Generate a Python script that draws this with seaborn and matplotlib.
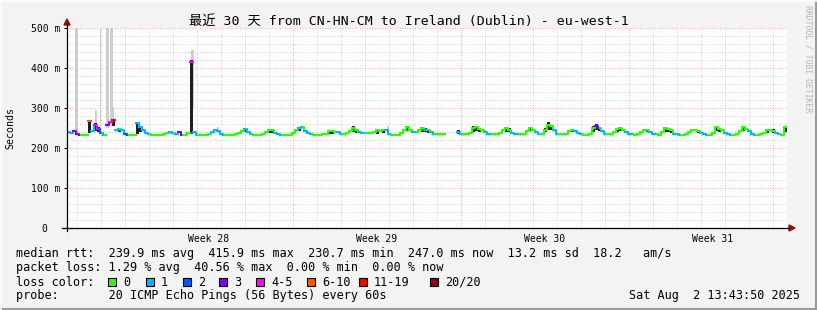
import numpy as np
import pandas as pd
import matplotlib
matplotlib.use("Agg")
import matplotlib.pyplot as plt
import seaborn as sns
from matplotlib.lines import Line2D
from matplotlib.patches import Polygon, Rectangle

nan = np.nan
W, H = 817, 310
STEP = 3  # hours per sample

# ---------------- data (median rtt in ms, one value per 3 h) ----------------
rtt_days_01_06 = [240, 238, 242, 236, 232, 232, 232, 268,
                  242, 258, 248, 238, 232, 258, 265, 270,
                  245, 248, 245, 236, 232, 232, 233, 262,
                  252, 245, 238, 234, 232, 232, 232, 233,
                  235, 238, 240, 237, 234, 240, 232, 233,
                  238, 415, 240, 232, 232, 232, 233, 236]
rtt_days_07_12 = [240, 245, 242, 236, 232, 232, 232, 233,
                  235, 238, 242, 248, 240, 234, 232, 232,
                  232, 234, 240, 245, 244, 238, 236, 232,
                  232, 232, 233, 238, 245, 250, 252, 242,
                  238, 234, 232, 232, 233, 234, 236, 242,
                  243, 240, 240, 236, 236, 237, 242, 250]
rtt_days_13_18 = [246, 240, 238, 237, 237, 237, 240, 244,
                  243, 245, 244, 236, 232, 232, 233, 238,
                  246, 252, 245, 240, 240, 245, 250, 244,
                  244, 240, 236, 234, 234, 234, nan, nan,
                  nan, nan, 240, 236, 234, 234, 238, 250,
                  252, 248, 246, 240, 236, 234, 234, 234]
rtt_days_19_24 = [238, 245, 250, 246, 238, 235, 234, 234,
                  236, 242, 250, 246, 240, 234, 234, 245,
                  258, 255, 245, 236, 234, 234, 236, 242,
                  246, 242, 238, 234, 233, 233, 236, 250,
                  256, 250, 242, 236, 234, 234, 240, 248,
                  250, 246, 240, 236, 234, 233, 234, 240]
rtt_days_25_30 = [244, 246, 240, 236, 234, 233, 240, 250,
                  248, 244, 236, 234, 233, 233, 234, 240,
                  245, 244, 242, 238, 235, 233, 233, 238,
                  252, 248, 244, 238, 234, 233, 233, 236,
                  242, 252, 248, 242, 236, 233, 233, 234,
                  238, 244, 246, 242, 238, 234, 233, 252]

# loss class per sample (0: 0, 1: 1, 2: 2, 3: 3, 4: 4-5, 5: 6-10, 6: 11-19, 7: 20/20)
loss_days_01_06 = [1, 1, 3, 3, 0, 0, 0, 5,
                   1, 4, 2, 1, 0, 3, 4, 6,
                   1, 0, 1, 2, 0, 0, 0, 1,
                   1, 1, 1, 0, 0, 0, 0, 0,
                   0, 0, 1, 0, 1, 3, 0, 0,
                   0, 4, 1, 0, 0, 0, 0, 0]
loss_days_07_12 = [1, 1, 1, 1, 0, 0, 0, 0,
                   0, 0, 0, 1, 1, 0, 0, 0,
                   0, 0, 0, 0, 0, 1, 1, 0,
                   0, 0, 0, 0, 0, 1, 0, 1,
                   1, 0, 0, 0, 0, 0, 0, 0,
                   0, 0, 1, 0, 0, 0, 0, 0]
loss_days_13_18 = [0, 1, 1, 0, 0, 0, 0, 0,
                   0, 0, 1, 0, 0, 0, 0, 0,
                   0, 0, 0, 1, 0, 0, 0, 1,
                   0, 1, 0, 0, 0, 0, 0, 0,
                   0, 0, 1, 0, 0, 0, 0, 0,
                   0, 0, 0, 1, 1, 0, 0, 0]
loss_days_19_24 = [0, 0, 0, 0, 1, 1, 0, 0,
                   0, 0, 0, 0, 1, 0, 0, 0,
                   0, 0, 1, 0, 0, 0, 0, 0,
                   0, 1, 1, 0, 0, 0, 0, 0,
                   3, 0, 1, 0, 0, 0, 0, 0,
                   0, 0, 1, 1, 0, 0, 0, 0]
loss_days_25_30 = [0, 0, 1, 1, 0, 0, 0, 0,
                   0, 0, 1, 1, 0, 0, 0, 0,
                   0, 0, 0, 1, 1, 0, 0, 0,
                   0, 0, 0, 1, 1, 0, 0, 0,
                   0, 0, 0, 1, 1, 0, 0, 0,
                   0, 0, 0, 0, 1, 0, 0, 0]

# dense smoke (sample index, low ms, high ms)
dark_idx = [7, 9, 10, 15, 17, 23, 24, 41, 59, 67, 68, 77, 87, 88, 95, 96, 103,
            105, 113, 118, 119, 120, 130, 135, 136, 137, 146, 147, 154, 159,
            160, 161, 168, 175, 176, 177, 183, 184, 193, 199, 200, 201, 210,
            216, 217, 225, 233, 235, 239]
dark_lo = [238, 242, 240, 255, 240, 235, 240, 236, 240, 238, 238, 242, 236, 236,
           240, 238, 236, 238, 242, 240, 240, 238, 236, 240, 242, 240, 240, 240,
           242, 240, 245, 244, 240, 240, 245, 242, 240, 242, 240, 240, 240, 238,
           238, 242, 240, 242, 238, 238, 240]
dark_hi = [270, 262, 252, 272, 250, 265, 255, 420, 250, 248, 248, 252, 245, 246,
           254, 248, 246, 248, 254, 252, 250, 246, 244, 254, 256, 250, 252, 250,
           252, 250, 264, 258, 248, 254, 260, 252, 250, 252, 248, 252, 250, 246,
           246, 254, 250, 256, 246, 248, 256]

# light smoke (start hour, end hour, low ms, high ms)
light_start = [8, 32.5, 39, 43, 28, 45.5, 123.5, 150, 319.5]
light_end = [11, 34, 42, 46, 30, 47, 126.5, 152, 321.5]
light_lo = [236, 238, 250, 255, 250, 260, 300, 238, 240]
light_hi = [500, 500, 500, 500, 296, 302, 445, 253, 254]

week_labels = ["Week 28", "Week 29", "Week 30", "Week 31"]
loss_names = ["0", "1", "2", "3", "4-5", "6-10", "11-19", "20/20"]
loss_colors = ["#26ff00", "#00b8ff", "#0059ff", "#7e00ff",
               "#ff00ff", "#ff5500", "#ff0000", "#a10000"]

rtt = np.array(rtt_days_01_06 + rtt_days_07_12 + rtt_days_13_18
               + rtt_days_19_24 + rtt_days_25_30, dtype=float)
loss = np.array(loss_days_01_06 + loss_days_07_12 + loss_days_13_18
                + loss_days_19_24 + loss_days_25_30)

# ---------------- figure ----------------
MONO = ["DejaVu Sans Mono", "Noto Sans CJK SC"]
plt.rcParams["font.family"] = MONO
BG = "#f3f3f3"
fig = plt.figure(figsize=(W / 100, H / 100), dpi=100, facecolor=BG)


def fx(x):
    return x / W


def fy(y):
    return 1 - y / H


ax = fig.add_axes([fx(67), fy(228), 720 / W, 200 / H])
ax.set_facecolor("white")
ax.set_xlim(0, 720)
ax.set_ylim(0, 500)
for s in ax.spines.values():
    s.set_visible(False)

# grid
grid_kw = dict(lw=0.6, linestyles=(0, (1, 2)), zorder=0)
ax.hlines([v for v in range(20, 501, 20) if v % 100], 0, 720, color="#bcbcbc", **grid_kw)
ax.hlines([100, 200, 300, 400, 500], 0, 720, color="#f08a8a", **grid_kw)
day_lines = [9.7 + 24 * k for k in range(30)]
week_lines = [57.7 + 168 * k for k in range(4)]
ax.vlines([d for d in day_lines if min(abs(d - w) for w in week_lines) > 1],
          0, 500, color="#bcbcbc", **grid_kw)
ax.vlines(week_lines, 0, 500, color="#f08a8a", **grid_kw)

# light smoke
for s0, s1, lo, hi in zip(light_start, light_end, light_lo, light_hi):
    ax.bar(s0, hi - lo, bottom=lo, width=s1 - s0, align="edge",
           color="#cdcdcd", lw=0, zorder=1)
# dense smoke
t_all = np.arange(len(rtt)) * STEP
ax.bar(t_all[dark_idx] + STEP / 2, np.array(dark_hi) - np.array(dark_lo), bottom=dark_lo,
       width=STEP * 0.7, align="center", color="#1e1e1e", lw=0, zorder=2)

# median line colored by loss class (steps; big jumps left to the smoke)
rows = []
for i, (m, l) in enumerate(zip(rtt, loss)):
    if np.isnan(m):
        continue
    name = loss_names[l]
    rows.append((t_all[i], m, i, name))
    rows.append((t_all[i] + STEP, m, i, name))
    if i + 1 < len(rtt) and not np.isnan(rtt[i + 1]) and abs(rtt[i + 1] - m) < 20:
        rows.append((t_all[i] + STEP, rtt[i + 1], i, name))
df = pd.DataFrame(rows, columns=["t", "ms", "seg", "loss"])
sns.lineplot(data=df, x="t", y="ms", hue="loss", units="seg", estimator=None,
             sort=False, palette=dict(zip(loss_names, loss_colors)),
             hue_order=loss_names, legend=False, lw=1.5, ax=ax, zorder=3)

# ticks
ax.set_yticks([0, 100, 200, 300, 400, 500])
ax.set_yticklabels(["0  ", "100 m", "200 m", "300 m", "400 m", "500 m"])
ax.set_xticks([w + 84 for w in week_lines])
ax.set_xticklabels(week_labels)
ax.tick_params(axis="y", length=2.5, width=0.8, pad=2.5, labelsize=7, color="black")
ax.tick_params(axis="x", length=0, pad=4.5, labelsize=7)
ax.set_xlabel("")
ax.set_ylabel("")
fig.text(fx(10), fy(128), "Seconds", rotation=90, ha="center", va="center", fontsize=7.2)

# axes lines and arrows
fig.add_artist(Line2D([fx(67), fx(67)], [fy(231), fy(24)], color="black", lw=0.9))
fig.add_artist(Line2D([fx(62), fx(789)], [fy(228), fy(228)], color="black", lw=0.9))
fig.add_artist(Polygon([(fx(64), fy(25)), (fx(70), fy(25)), (fx(67), fy(19))],
                       closed=True, color="#8b1010", transform=fig.transFigure))
fig.add_artist(Polygon([(fx(789), fy(225)), (fx(789), fy(231)), (fx(795), fy(228))],
                       closed=True, color="#8b1010", transform=fig.transFigure))

# title and watermark
fig.text(0.5, fy(21), "最近 30 天 from CN-HN-CM to Ireland (Dublin) - eu-west-1",
         ha="center", va="center", fontsize=9.5, family=MONO)
fig.text(fx(808), fy(5), "RRDTOOL / TOBI OETIKER", rotation=-90, ha="center", va="top",
         fontsize=5.9, color="#b4b4b4")

# legend text
FS = 8.5
rows_y = [254, 268, 282, 296]
fig.text(fx(16), fy(rows_y[0]),
         "median rtt:  239.9 ms avg  415.9 ms max  230.7 ms min  247.0 ms now  13.2 ms sd  18.2   am/s",
         ha="left", va="center", fontsize=FS)
fig.text(fx(16), fy(rows_y[1]),
         "packet loss: 1.29 % avg  40.56 % max  0.00 % min  0.00 % now",
         ha="left", va="center", fontsize=FS)
fig.text(fx(16), fy(rows_y[2]), "loss color:", ha="left", va="center", fontsize=FS)
box_x = [108, 146, 183, 219, 256, 307, 359, 430]
for bx, name, col in zip(box_x, loss_names, loss_colors):
    fig.add_artist(Rectangle((fx(bx), fy(286)), 8 / W, 8 / H, facecolor=col,
                             edgecolor="black", lw=0.8, transform=fig.transFigure))
    fig.text(fx(bx + 15), fy(rows_y[2]), name, ha="left", va="center", fontsize=FS)
fig.text(fx(16), fy(rows_y[3]), "probe:       20 ICMP Echo Pings (56 Bytes) every 60s",
         ha="left", va="center", fontsize=FS)
fig.text(fx(800), fy(rows_y[3]), "Sat Aug  2 13:43:50 2025", ha="right", va="center",
         fontsize=FS)

# frame (3D look)
fig.add_artist(Line2D([0, 1], [fy(308.5), fy(308.5)], color="#9a9a9a", lw=2.2))
fig.add_artist(Line2D([fx(815.5), fx(815.5)], [0, 1], color="#9a9a9a", lw=2.2))
fig.add_artist(Line2D([0, 1], [fy(0.5), fy(0.5)], color="#fcfcfc", lw=1.2))
fig.add_artist(Line2D([fx(0.5), fx(0.5)], [0, 1], color="#fcfcfc", lw=1.2))

fig.savefig("out.png", dpi=100, facecolor=BG)
